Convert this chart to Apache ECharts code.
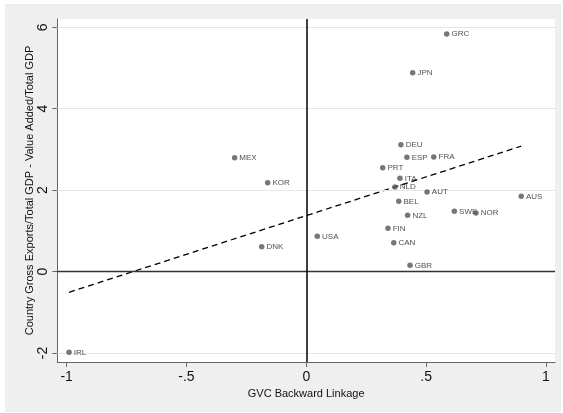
<!DOCTYPE html>
<html>
<head>
<meta charset="utf-8">
<script src="https://cdn.jsdelivr.net/npm/echarts@6/dist/echarts.min.js"></script>
<style>
html,body{margin:0;padding:0;background:#fff;}
#c{width:563px;height:413px;}
</style>
</head>
<body>
<div id="c"></div>
<script>
const countries = ['GRC','JPN','DEU','ESP','FRA','PRT','ITA','NLD','AUT','AUS','BEL','SWE','NOR','NZL','FIN','CAN','GBR','MEX','KOR','DNK','USA','IRL'];
const xVals = [0.586,0.444,0.395,0.420,0.532,0.319,0.391,0.370,0.504,0.897,0.386,0.618,0.708,0.423,0.341,0.365,0.433,-0.299,-0.161,-0.186,0.046,-0.990];
const yVals = [5.835,4.885,3.115,2.806,2.813,2.550,2.290,2.076,1.953,1.848,1.725,1.479,1.437,1.381,1.061,0.708,0.152,2.796,2.182,0.609,0.865,-1.985];
const fitX = [-0.990, 0.897];
const fitY = [-0.51, 3.08];
const xTicks = [-1,-0.5,0,0.5,1];
const xTickLabels = ['-1','-.5','0','.5','1'];
const yTicks = [-2,0,2,4,6];
const yTickLabels = ['-2','0','2','4','6'];
const gridYs = [-2,2,4,6];

const FONT = '"Liberation Sans", Arial, Helvetica, sans-serif';
const chart = echarts.init(document.getElementById('c'), null, {renderer:'canvas'});

const points = countries.map((c,i)=>({name:c, value:[xVals[i], yVals[i]]}));
const fitData = fitX.map((x,i)=>[x, fitY[i]]);

const gridMarks = gridYs.map(v=>({yAxis:v}));
const refMarks = [
  {yAxis:0, lineStyle:{color:'#333', width:1.3, type:'solid'}},
  {xAxis:0, lineStyle:{color:'#000', width:1.5, type:'solid'}}
];

chart.setOption({
  animation:false,
  backgroundColor:'#fff',
  textStyle:{fontFamily:FONT},
  graphic:[{type:'rect', z:-100, silent:true, shape:{x:5,y:4,width:556,height:408}, style:{fill:'#efefef'}}],
  grid:{left:57.3, top:19, right:8, bottom:51, show:true, backgroundColor:'#fff', borderWidth:0, containLabel:false},
  xAxis:{
    type:'value', min:-1.039, max:1.038,
    axisLine:{show:true, onZero:false, lineStyle:{color:'#666', width:1}},
    axisTick:{show:true, length:5, customValues:xTicks, lineStyle:{color:'#666'}},
    axisLabel:{show:true, customValues:xTicks, margin:8, fontSize:14, color:'#111', fontFamily:FONT,
      formatter:v=>{const i=xTicks.findIndex(t=>Math.abs(t-v)<1e-9); return i>=0?xTickLabels[i]:'';}},
    splitLine:{show:false},
    name:'GVC Backward Linkage', nameLocation:'middle', nameGap:22,
    nameTextStyle:{fontSize:11, color:'#111', fontFamily:FONT}
  },
  yAxis:{
    type:'value', min:-2.223, max:6.204,
    axisLine:{show:true, onZero:false, lineStyle:{color:'#666', width:1}},
    axisTick:{show:true, length:5, customValues:yTicks, lineStyle:{color:'#666'}},
    axisLabel:{show:true, customValues:yTicks, rotate:90, margin:7, fontSize:14, color:'#111', fontFamily:FONT,
      formatter:v=>{const i=yTicks.findIndex(t=>Math.abs(t-v)<1e-9); return i>=0?yTickLabels[i]:'';}},
    splitLine:{show:false},
    name:'Country Gross Exports/Total GDP - Value Added/Total GDP', nameLocation:'middle', nameGap:22,
    nameMoveOverlap:false,
    nameTextStyle:{fontSize:11, color:'#111', fontFamily:FONT}
  },
  series:[
    {
      type:'line', data:[], z:1, silent:true,
      markLine:{silent:true, symbol:['none','none'], label:{show:false}, animation:false,
        lineStyle:{color:'#e6e6e6', width:1.2, type:'solid'}, data:gridMarks}
    },
    {
      type:'line', data:[], z:2, silent:true,
      markLine:{silent:true, symbol:['none','none'], label:{show:false}, animation:false, data:refMarks}
    },
    {
      type:'line', data:fitData, showSymbol:false, symbol:'none', z:3,
      lineStyle:{color:'#000', width:1.3, type:[6,4]}
    },
    {
      type:'scatter', data:points, symbolSize:5.5, z:5,
      itemStyle:{color:'#555'},
      label:{show:true, position:'right', distance:2, formatter:'{b}', fontSize:8, color:'#222', fontFamily:FONT}
    }
  ]
});
</script>
</body>
</html>
